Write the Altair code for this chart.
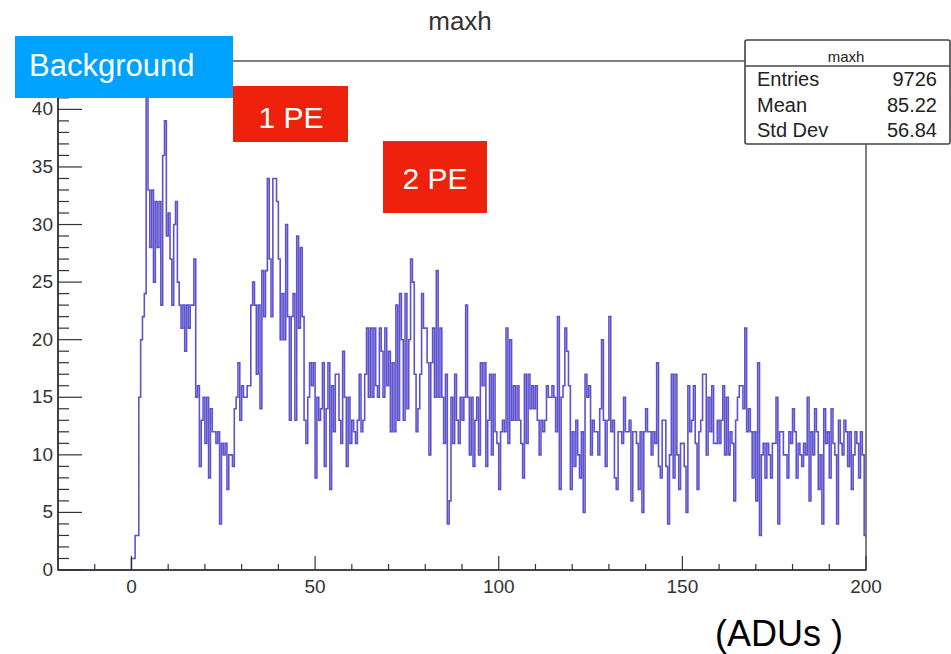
import altair as alt
import pandas as pd

# ---- histogram contents (bin width 0.5 ADU, starting at 0) ----
counts_0_50 = [
    1, 1, 3, 3, 15, 20, 22, 24, 42, 33, 28, 33, 25, 32, 28, 32, 23, 36, 39, 29,
    31, 27, 23, 30, 32, 25, 23, 21, 23, 19, 23, 21, 23, 23, 27, 15, 16, 9, 13, 15,
    11, 15, 8, 14, 12, 12, 11, 12, 4, 11, 10, 11, 7, 10, 10, 9, 14, 15, 18, 13,
    16, 15, 15, 16, 16, 23, 25, 23, 17, 23, 14, 26, 22, 26, 34, 27, 22, 34, 34, 32,
    27, 20, 24, 20, 30, 22, 13, 22, 24, 13, 29, 21, 28, 22, 13, 11, 15, 18, 16, 18,
]
counts_50_100 = [
    8, 15, 13, 14, 18, 9, 14, 18, 7, 16, 12, 17, 17, 13, 11, 19, 15, 9, 15, 11,
    13, 12, 11, 13, 17, 12, 13, 17, 21, 15, 21, 15, 21, 16, 15, 21, 19, 15, 21, 16,
    19, 12, 18, 12, 23, 13, 24, 20, 13, 24, 14, 20, 27, 25, 17, 12, 14, 17, 24, 21,
    21, 18, 10, 18, 21, 15, 26, 15, 21, 15, 11, 17, 4, 6, 15, 11, 17, 13, 11, 15,
    13, 15, 23, 15, 10, 15, 9, 13, 15, 10, 18, 16, 18, 9, 13, 17, 10, 17, 12, 11,
]
counts_100_150 = [
    7, 12, 13, 12, 21, 11, 20, 13, 16, 13, 16, 13, 11, 8, 17, 11, 17, 14, 16, 14,
    16, 13, 10, 13, 12, 13, 16, 15, 15, 16, 15, 12, 22, 7, 15, 16, 21, 19, 16, 7,
    12, 9, 13, 10, 8, 12, 5, 17, 15, 16, 10, 13, 12, 12, 10, 14, 20, 13, 9, 13,
    22, 12, 13, 8, 7, 12, 12, 11, 15, 12, 12, 13, 6, 12, 12, 11, 7, 12, 5, 12,
    14, 12, 12, 10, 12, 11, 18, 9, 8, 13, 13, 9, 4, 10, 17, 8, 17, 10, 7, 11,
]
counts_150_200 = [
    11, 9, 5, 16, 12, 13, 16, 11, 7, 12, 13, 17, 17, 10, 15, 12, 16, 11, 11, 13,
    11, 13, 16, 10, 15, 10, 12, 11, 6, 13, 15, 16, 16, 14, 21, 12, 14, 12, 8, 12,
    6, 18, 3, 10, 11, 8, 11, 10, 8, 11, 11, 15, 4, 12, 12, 10, 10, 8, 12, 11,
    14, 12, 8, 11, 10, 9, 11, 10, 15, 6, 12, 10, 14, 12, 7, 10, 4, 14, 11, 12,
    8, 14, 11, 10, 4, 13, 11, 10, 13, 12, 9, 12, 7, 10, 12, 11, 8, 12, 10, 3,
]

bin_width = 0.5
x_min, x_max = -20, 200
y_max = 44.2

x_major = [0, 50, 100, 150, 200]
x_minor = [v for v in range(-10, 200, 10) if v % 50 != 0]
y_major = [0, 5, 10, 15, 20, 25, 30, 35, 40]
y_minor = [v for v in range(1, 45) if v % 5 != 0]

stat_names = ["Entries", "Mean", "Std Dev"]
stat_values = ["9726", "85.22", "56.84"]

counts = counts_0_50 + counts_50_100 + counts_100_150 + counts_150_200
xs = [x_min] + [i * bin_width for i in range(len(counts))] + [x_max]
ys = [0] + counts + [counts[-1]]
hist = pd.DataFrame({"x": xs, "y": ys})

W, H = 808, 509
FONT = "Liberation Sans"
xscale = alt.Scale(domain=[x_min, x_max], nice=False, zero=False)
yscale = alt.Scale(domain=[0, y_max], nice=False, zero=False)

line = alt.Chart(hist).mark_line(
    interpolate="step-after", color="#5e53cf", strokeWidth=1.6
).encode(
    x=alt.X("x:Q", scale=xscale, axis=None),
    y=alt.Y("y:Q", scale=yscale, axis=None),
)

# axis lines (left and bottom), ticks pointing inwards, and tick labels
axis_lines = [
    alt.Chart(pd.DataFrame({"a": [0]})).mark_rule(color="#333", strokeWidth=1.6).encode(
        x=alt.value(0), x2=alt.value(W), y=alt.value(H)),
    alt.Chart(pd.DataFrame({"a": [0]})).mark_rule(color="#333", strokeWidth=1.6).encode(
        x=alt.value(0), y=alt.value(0), y2=alt.value(H)),
]

def xticks(vals, length):
    return alt.Chart(pd.DataFrame({"v": vals})).mark_rule(color="#333", strokeWidth=1.2).encode(
        x=alt.X("v:Q", scale=xscale, axis=None),
        y=alt.value(H), y2=alt.value(H - length))

def yticks(vals, length):
    return alt.Chart(pd.DataFrame({"v": vals})).mark_rule(color="#333", strokeWidth=1.2).encode(
        y=alt.Y("v:Q", scale=yscale, axis=None),
        x=alt.value(0), x2=alt.value(length))

x_labels = alt.Chart(pd.DataFrame({"v": x_major})).mark_text(
    font=FONT, fontSize=19, color="#333", baseline="top", align="center"
).encode(x=alt.X("v:Q", scale=xscale, axis=None), y=alt.value(H + 8), text="v:Q")

y_labels = alt.Chart(pd.DataFrame({"v": y_major})).mark_text(
    font=FONT, fontSize=19, color="#333", baseline="middle", align="right"
).encode(y=alt.Y("v:Q", scale=yscale, axis=None), x=alt.value(-5), text="v:Q")

def one(t):
    return pd.DataFrame({"t": [t]})

def box(x1, y1, x2, y2, fill, stroke=None):
    kw = dict(color=fill)
    if stroke:
        kw = dict(fill=fill, stroke=stroke, strokeWidth=1.6, cornerRadius=2)
    return alt.Chart(one("")).mark_rect(**kw).encode(
        x=alt.value(x1), x2=alt.value(x2), y=alt.value(y1), y2=alt.value(y2))

def label(t, x, y, size, color, align="center", font=FONT):
    return alt.Chart(one(t)).mark_text(
        align=align, baseline="alphabetic", fontSize=size, color=color, font=font
    ).encode(x=alt.value(x), y=alt.value(y), text="t:N")

layers = [
    line,
    xticks(x_major, 14), xticks(x_minor, 6),
    yticks(y_major, 24), yticks(y_minor, 11),
    *axis_lines,
    x_labels, y_labels,
    # title
    label("maxh", 402, -31, 26, "#333"),
    # stats box
    box(687, -21, 892, 83, "white", stroke="#444"),
    alt.Chart(one("")).mark_rule(color="#444", strokeWidth=1.4).encode(
        x=alt.value(687), x2=alt.value(892), y=alt.value(5)),
    label("maxh", 788, 1, 15, "#222"),
]
for i, (n, v) in enumerate(zip(stat_names, stat_values)):
    yb = 25 + 25.5 * i
    layers.append(label(n, 699, yb, 20, "#222", align="left"))
    layers.append(label(v, 879, yb, 20, "#222", align="right"))

layers += [
    box(-43, -25, 175, 37, "#00a2ff"),
    label("Background", -29, 15, 31, "white", align="left"),
    box(175, 25, 290, 81, "#ee220c"),
    label("1 PE", 233, 67, 30, "white"),
    box(325, 80, 429, 152, "#ee220c"),
    label("2 PE", 377, 128, 30, "white"),
    label("(ADUs )", 657, 585, 36, "black", align="left"),
]

chart = alt.layer(*layers).properties(
    width=W, height=H,
    autosize=alt.AutoSizeParams(type="none"),
    padding={"left": 58, "top": 61, "right": 85, "bottom": 84},
    background="white",
).configure_view(stroke="#555", strokeWidth=1.5)

chart.save("out.html", embed_options={"renderer": "svg", "actions": False})
